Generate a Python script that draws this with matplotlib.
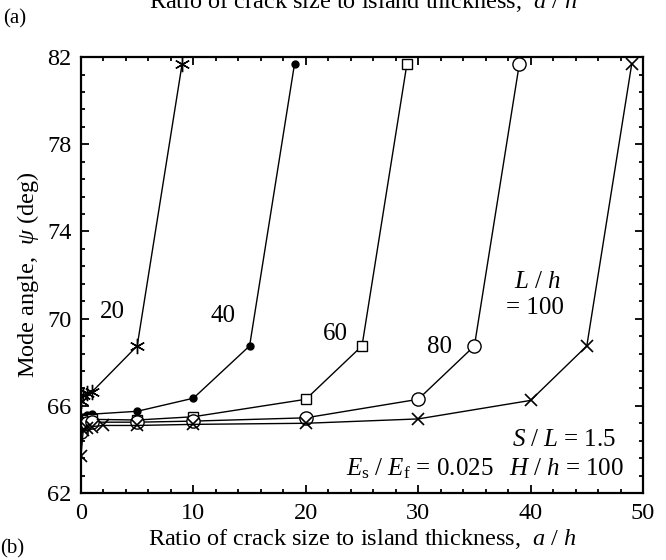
import numpy as np
import matplotlib
matplotlib.use("Agg")
import matplotlib.pyplot as plt

plt.rcParams['font.family'] = ['Liberation Serif', 'DejaVu Serif']
plt.rcParams['mathtext.fontset'] = 'custom'
plt.rcParams['mathtext.rm'] = 'Liberation Serif'
plt.rcParams['mathtext.it'] = 'Liberation Serif:italic'

# data: x = a/h, y = mode angle psi (deg)
x20 = [0, 0.2, 0.5, 1, 5, 9]
y20 = [66.2, 66.5, 66.6, 66.65, 68.75, 81.7]
x40 = [0, 0.2, 0.5, 1, 5, 10, 15, 19]
y40 = [65.0, 65.5, 65.6, 65.62, 65.75, 66.35, 68.75, 81.7]
x60 = [0, 0.2, 0.5, 1, 5, 10, 20, 25, 29]
y60 = [64.9, 65.25, 65.35, 65.38, 65.35, 65.5, 66.3, 68.75, 81.7]
x80 = [0, 0.2, 0.5, 1, 5, 10, 20, 30, 35, 39]
y80 = [64.8, 65.15, 65.2, 65.25, 65.25, 65.3, 65.45, 66.3, 68.75, 81.7]
x100 = [0, 0.2, 0.5, 1, 2, 5, 10, 20, 30, 40, 45, 49]
y100 = [63.7, 64.9, 65.0, 65.05, 65.1, 65.1, 65.15, 65.2, 65.4, 66.25, 68.75, 81.7]

xticks = [0, 10, 20, 30, 40, 50]
yticks = [62, 66, 70, 74, 78, 82]

fig = plt.figure(figsize=(6.66, 5.6), dpi=100)
ax = fig.add_axes([0.1216, 0.1196, 0.8439, 0.7784])

lw = 1.0
ax.plot(x20, y20, color='k', lw=lw, marker=(6, 2, 0), ms=11, mew=1.0)
ax.plot(x40, y40, color='k', lw=lw, marker='o', ms=5)
ax.plot(x60, y60, color='k', lw=lw, marker='s', ms=7, mfc='white', mew=1.0)
ax.plot(x80, y80, color='k', lw=lw, marker='o', ms=9.5, mfc='white', mew=1.0)
ax.plot(x100, y100, color='k', lw=lw, marker='x', ms=9, mew=1.2)

ax.set_xlim(0, 50)
ax.set_ylim(62, 82)
ax.set_xticks(xticks)
ax.set_yticks(yticks)
ax.set_xticks(np.arange(0, 50.01, 2), minor=True)
ax.set_yticks(np.arange(62, 82.01, 0.8), minor=True)
ax.tick_params(which='both', direction='in', top=True, right=True, width=1.3)
ax.tick_params(which='major', length=6, labelsize=17.5, pad=7)
ax.tick_params(which='minor', length=3)
for s in ax.spines.values():
    s.set_linewidth(1.6)

ax.set_xlabel(r'Ratio of crack size to island thickness,  $a\ /\ h$', fontsize=17.5, labelpad=2)
ax.set_ylabel(r'Mode angle,  $\psi$ (deg)', fontsize=17.5, labelpad=4)

fs = 18
ax.text(2.8, 70.3, '20', fontsize=fs, ha='center', va='center')
ax.text(12.6, 70.1, '40', fontsize=fs, ha='center', va='center')
ax.text(22.6, 69.3, '60', fontsize=fs, ha='center', va='center')
ax.text(31.9, 68.7, '80', fontsize=fs, ha='center', va='center')
ax.text(40.6, 71.66, r'$L\ /\ h$', fontsize=fs, ha='center', va='center')
ax.text(40.4, 70.5, '= 100', fontsize=fs, ha='center', va='center')
ax.text(47.6, 64.43, r'$S\ /\ L$ = 1.5', fontsize=fs, ha='right', va='center')
ax.text(23.6, 63.1, r'$E_{\rm s}\ /\ E_{\rm f}$ = 0.025', fontsize=fs, ha='left', va='center')
ax.text(48.3, 63.1, r'$H\ /\ h$ = 100', fontsize=fs, ha='right', va='center')

fig.text(0.005, 0.967, '(a)', fontsize=15, ha='left', va='center')
fig.text(0.0, 0.02, '(b)', fontsize=15, ha='left', va='center')
fig.text(0.545, 0.997, r'Ratio of crack size to island thickness,  $a\ /\ h$', fontsize=17.5, ha='center', va='center')

fig.savefig('out.png', dpi=100)
